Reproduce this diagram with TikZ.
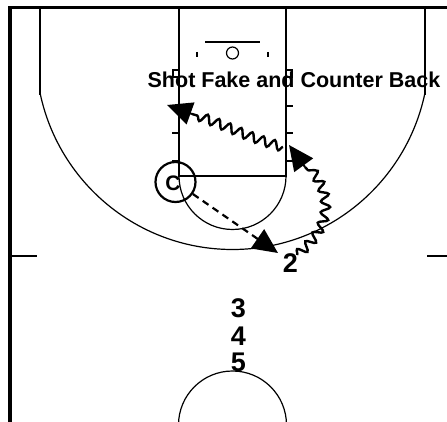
\documentclass[tikz,border=0pt]{standalone}
\usepackage{fontspec}
\setmainfont{Liberation Sans}
\usetikzlibrary{arrows.meta,decorations.pathmorphing}
\tikzset{
  court/.style={line width=1.2pt, black},
  border/.style={line width=3.5pt, black},
  player/.style={circle, draw, line width=2.2pt, minimum size=40pt, inner sep=0pt},
  lbl/.style={font=\fontsize{27}{28}\bfseries\selectfont, inner sep=0pt, anchor=base},
  dribble/.style={line width=2.4pt, decorate, decoration={snake, amplitude=4.5pt, segment length=12pt}},
  pass/.style={line width=2.2pt, dash pattern=on 7pt off 5pt, -{Triangle[length=25pt,width=23pt]}},
  tip/.style={line width=2pt, -{Triangle[length=25pt,width=23pt]}},
}
\begin{document}
\begin{tikzpicture}[x=1pt,y=-1pt]
\useasboundingbox (0,0) rectangle (447,422);
% border
\draw[border] (10,424) -- (10,7.5) -- (448,7.5);
% lane
\draw[court] (179,7.5) -- (179,176) -- (286,176) -- (286,7.5);
% free throw circle (lower half)
\begin{scope}
  \clip (170,176) rectangle (300,240);
  \draw[court] (232.5,176) circle[radius=53.5pt];
\end{scope}
% three point line
\draw[court] (40,7.5) -- (40,95);
\draw[court] (425,7.5) -- (425,95);
\begin{scope}
  \clip (30,95) rectangle (440,262);
  \draw[court] (232.5,53) circle[radius=196.5pt];
\end{scope}
% basket and backboard
\draw[court] (205,42) -- (260,42);
\draw[court] (232.5,53) circle[radius=6pt];
\draw[court] (197,52) -- (197,57);
\draw[court] (268,52) -- (268,57);
% blocks and hash marks
\draw[court] (179,70) -- (173,70) -- (173,77) -- (179,77);
\draw[court] (286,70) -- (292,70) -- (292,77) -- (286,77);
\foreach \yy in {106,133,161}{
  \draw[court] (172,\yy) -- (179,\yy);
  \draw[court] (286,\yy) -- (293,\yy);
}
% half court ticks
\draw[court] (10,256) -- (37,256);
\draw[court] (427,256) -- (448,256);
% center circle
\draw[court] (232.5,425) circle[radius=54pt];
% title
\node[font=\fontsize{21.5}{25}\bfseries\selectfont, inner sep=0pt, anchor=base] (title) at (294,88) {Shot Fake and Counter Back};
% players
\node[player] (c) at (175.5,182) {};
\node[font=\fontsize{21}{22}\bfseries\selectfont, inner sep=0pt, anchor=base] (clbl) at (173,191) {C};
\node[lbl] (p2) at (290.5,272.5) {2};
\node[lbl] (p3) at (238.5,317) {3};
\node[lbl] (p4) at (238.5,345) {4};
\node[lbl] (p5) at (238.5,371) {5};
% pass
\coordinate (passend) at (278,253);
\draw[pass] (c) -- (passend);
% dribble 1
\coordinate (d1s) at (297,255);
\coordinate (d1m) at (305,167);
\coordinate (d1t) at (289,145);
\draw[dribble] (d1s) .. controls (325,232) and (335,200) .. (d1m);
\draw[tip] (d1m) -- (d1t);
% dribble 2
\coordinate (d2s) at (283,147);
\coordinate (d2m) at (192,114);
\coordinate (d2t) at (167,105);
\draw[dribble] (d2s) .. controls (250,138) and (220,122) .. (d2m);
\draw[tip] (d2m) -- (d2t);
\end{tikzpicture}
\end{document}
